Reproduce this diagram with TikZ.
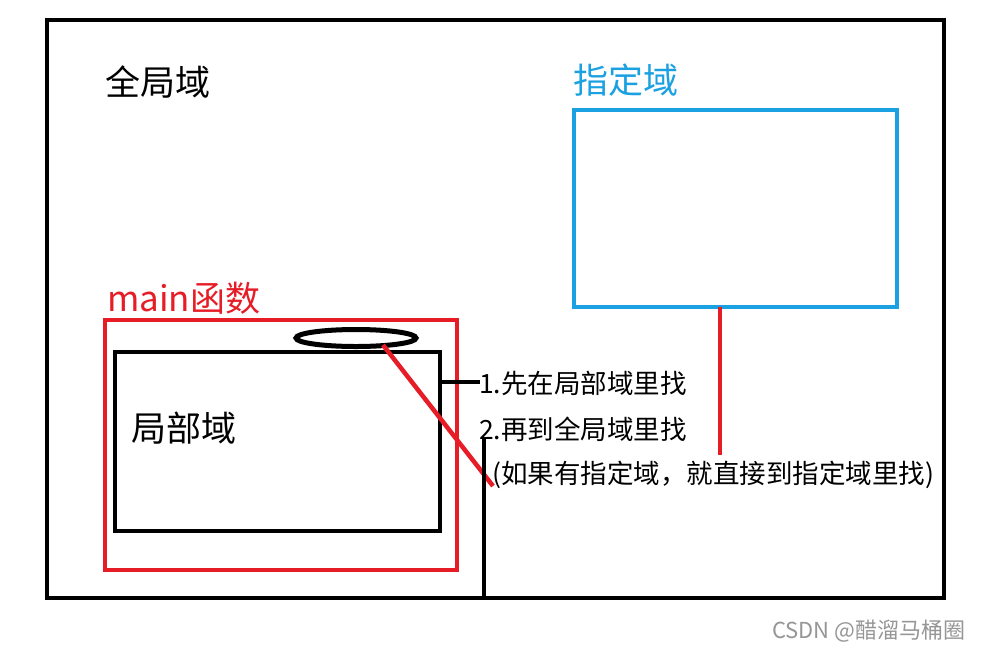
\documentclass[tikz,border=0pt]{standalone}
\usepackage{fontspec}
\usetikzlibrary{shapes.geometric}
\newfontfamily\cjk{Noto Sans CJK SC}
\definecolor{myred}{RGB}{230,28,38}
\definecolor{myblue}{RGB}{27,161,226}
\definecolor{mygray}{RGB}{150,150,150}
\begin{document}
\begin{tikzpicture}[x=1pt,y=-1pt,
  thickline/.style={line width=4.5pt},
  lbl/.style={inner sep=0pt,anchor=west,font=\cjk}]
\useasboundingbox (0,0) rectangle (986,649);
\fill[white] (0,0) rectangle (986,649);
% outer frame
\draw[thickline,black] (47,20) rectangle (944,598);
\node[lbl,font=\cjk\fontsize{35}{40}\selectfont] (global) at (105,82) {全局域};
% designated domain
\node[lbl,text=myblue,font=\cjk\fontsize{35}{40}\selectfont] (deslbl) at (573,80) {指定域};
\draw[thickline,myblue] (574,110) rectangle (897,307);
\coordinate (desb) at (720,307);
\coordinate (dese) at (720,455);
\draw[thickline,myred] (desb) -- (dese);
% main function
\node[lbl,text=myred,font=\cjk\fontsize{35}{40}\selectfont] (mainlbl) at (107,298) {main函数};
\draw[thickline,myred] (105,320) rectangle (457,570);
\node[draw,line width=5pt,ellipse,minimum width=120pt,minimum height=17pt,inner sep=0pt] (ell) at (356,338) {};
\draw[thickline] (115,352) rectangle (440,531);
\node[lbl,font=\cjk\fontsize{35}{40}\selectfont] (local) at (131,428) {局部域};
% connectors
\coordinate (a1) at (442,382);
\coordinate (a2) at (480,382);
\draw[thickline] (a1) -- (a2);
\coordinate (r1) at (383,345);
\coordinate (r2) at (493,486);
\draw[thickline,myred] (r1) -- (r2);
\coordinate (v1) at (484,438);
\coordinate (v2) at (484,596);
\draw[thickline] (v1) -- (v2);
% texts
\node[lbl,font=\cjk\fontsize{26.5}{30}\selectfont] (t1) at (479,383) {1.先在局部域里找};
\node[lbl,font=\cjk\fontsize{26.5}{30}\selectfont] (t2) at (479,429) {2.再到全局域里找};
\node[lbl,font=\cjk\fontsize{26.5}{30}\selectfont] (t3) at (492,475) {(如果有指定域，就直接到指定域里找)};
\node[lbl,text=mygray,font=\cjk\fontsize{22}{26}\selectfont] (csdn) at (772,631) {CSDN @醋溜马桶圈};
\end{tikzpicture}
\end{document}
